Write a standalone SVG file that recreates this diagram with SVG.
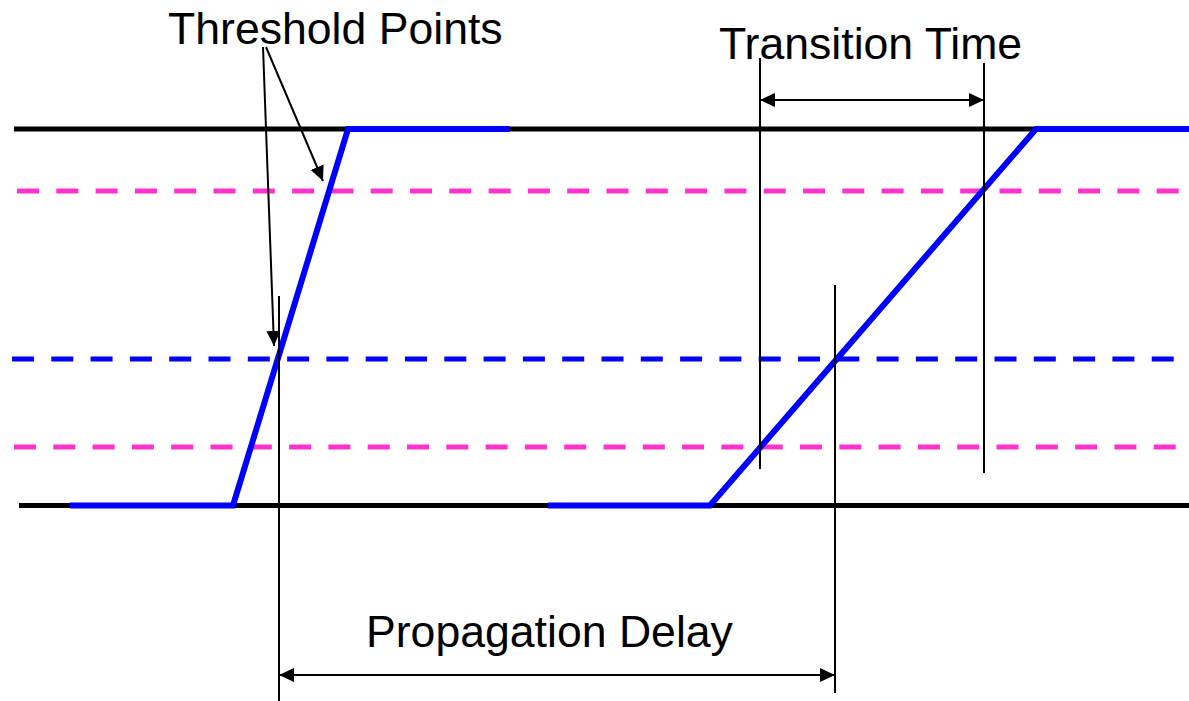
<svg xmlns="http://www.w3.org/2000/svg" width="1189" height="701" viewBox="0 0 1189 701">
<style>
.rail{stroke:#000;stroke-width:5;fill:none}
.pink{stroke:#FF33CC;stroke-width:5;stroke-dasharray:22 17.3;fill:none}
.thr{stroke:#0000FF;stroke-width:5;stroke-dasharray:22 17.3;fill:none}
.wave{stroke:#0000FF;stroke-width:6;fill:none;stroke-linejoin:miter}
.thin{stroke:#000;stroke-width:2;fill:none}
.lbl{font-family:"Liberation Sans",Arial,sans-serif;font-size:44.6px;fill:#000}
</style>
<defs>
<marker id="ah" viewBox="0 0 15 14" refX="15" refY="7" markerWidth="15" markerHeight="14" markerUnits="userSpaceOnUse" orient="auto-start-reverse">
<path d="M0,0 L15,7 L0,14 Z" fill="#000"/>
</marker>
</defs>
<rect width="1189" height="701" fill="#fff"/>
<g id="levels">
<line class="rail" x1="14" y1="129" x2="1189" y2="129"/>
<line class="rail" x1="19" y1="505.5" x2="1189" y2="505.5"/>
<line class="pink" x1="17" y1="191" x2="1189" y2="191"/>
<line class="thr" x1="12" y1="359" x2="1189" y2="359"/>
<line class="pink" x1="14" y1="447" x2="1189" y2="447"/>
</g>
<g id="waveform1">
<polyline class="wave" points="70,505.5 233,505.5 348,129 510,129"/>
</g>
<g id="waveform2">
<polyline class="wave" points="548,505.5 710,505.5 1036,129 1189,129"/>
</g>
<g id="connectors">
<line class="thin" x1="279" y1="296" x2="279" y2="701"/>
<line class="thin" x1="835" y1="285" x2="835" y2="693"/>
<line class="thin" x1="760" y1="58" x2="760" y2="469"/>
<line class="thin" x1="984" y1="63" x2="984" y2="473"/>
<line class="thin" x1="760" y1="100" x2="984" y2="100" marker-start="url(#ah)" marker-end="url(#ah)"/>
<line class="thin" x1="279" y1="675" x2="835" y2="675" marker-start="url(#ah)" marker-end="url(#ah)"/>
<line class="thin" x1="266" y1="47" x2="323" y2="181" marker-end="url(#ah)"/>
<line class="thin" x1="263" y1="47" x2="274" y2="346" marker-end="url(#ah)"/>
</g>
<g id="labels">
<text class="lbl" x="168" y="44">Threshold Points</text>
<text class="lbl" x="719" y="59">Transition Time</text>
<text class="lbl" x="366" y="647">Propagation Delay</text>
</g>
</svg>
